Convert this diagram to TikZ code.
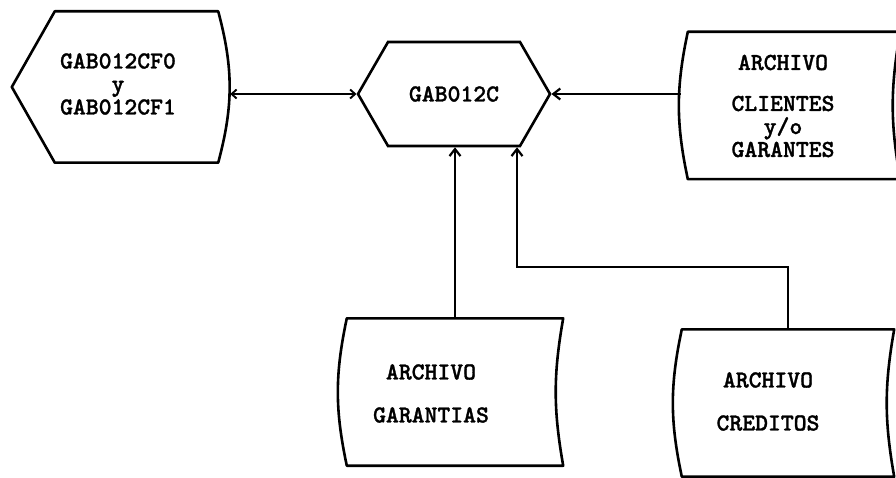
\documentclass[tikz,border=0pt]{standalone}
\usepackage{fontspec}
\newfontfamily\dotfont{lmmonolt10-bold.otf}[FakeBold=1.2]
\usepackage{tikz}
\usetikzlibrary{arrows.meta,positioning,shapes.symbols,calc}

\begin{document}
\begin{tikzpicture}[x=1pt,y=-1pt,
    txt/.style={font=\dotfont\fontsize{24.5}{23}\selectfont,align=center,inner sep=0pt},
    hexa/.style={signal,signal to=east and west,signal pointer angle=120,draw,line width=2.6pt,
      minimum width=192pt,minimum height=104pt,inner sep=0pt,font=\dotfont\fontsize{24.5}{23}\selectfont},
    filebox/.style={minimum width=#1,minimum height=147pt,inner sep=0pt},
    edge/.style={line width=2.6pt,line join=round},
    arr/.style={-{Straight Barb[length=7pt,width=11pt]},line width=2.2pt},
    dbl/.style={{Straight Barb[length=5pt,width=9pt]}-{Straight Barb[length=5pt,width=9pt]},line width=1.9pt}
  ]
    \clip (0,0) rectangle (896,478);
    \fill[white] (0,0) rectangle (896,478);
    % modulos
    \node[filebox=163pt,minimum height=151pt] (prog) at (136.5,87) {};
    \draw[edge] (prog.north west) -- (prog.north east) to[bend left=15] (prog.south east)
      -- (prog.south west) -- ([xshift=-43pt]prog.west) -- cycle;
    \coordinate (progE) at ([xshift=12pt]prog.east);
    \node[txt] (progT) at (118,84) {GAB012CF0\\y\\GAB012CF1};
    \node[hexa] (hex) at (454,94) {GAB012C};
    % archivos
    \node[filebox=212pt] (cli) at (794,105.5) {};
    \node[filebox=216pt] (gar) at (455,392) {};
    \node[filebox=212pt] (cre) at (788,403) {};
    \foreach \n in {cli,gar,cre}
      \draw[edge] (\n.north west) to[bend right=12] (\n.south west) -- (\n.south east)
        to[bend left=10] (\n.north east) -- cycle;
    \coordinate (cliW) at ([xshift=-7pt]cli.west);
    \node[txt] (cliT) at (783,106) {ARCHIVO\\[18pt]CLIENTES\\y/o\\GARANTES};
    \node[txt] (garT) at (431,393.5) {ARCHIVO\\[20pt]GARANTIAS};
    \node[txt] (creT) at (768,401.5) {ARCHIVO\\[20pt]CREDITOS};
    % conexiones
    \coordinate (elbow) at (517,267);
    \draw[dbl] (hex.west -| progE) -- (hex.west);
    \draw[arr] (hex.east -| cliW) -- (hex.east);
    \draw[arr] (gar.north) -- (gar.north |- hex.south);
    \draw[arr] (cre.north) |- (elbow) -- (elbow |- hex.south);
  \end{tikzpicture}
\end{document}
